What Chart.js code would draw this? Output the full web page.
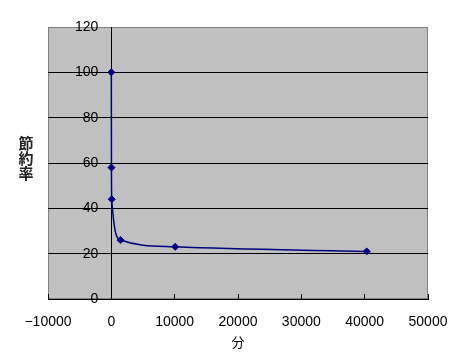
<!DOCTYPE html>
<html>
<head>
<meta charset="utf-8">
<script src="https://cdn.jsdelivr.net/npm/chart.js@4/dist/chart.umd.min.js"></script>
<style>
  html, body { margin: 0; padding: 0; background: #fff; }
  #wrap { position: relative; width: 463px; height: 354px; }
  #yTitle {
    position: absolute; left: 17px; top: 135px; width: 18px;
    font: bold 15px "Noto Sans CJK JP", sans-serif; line-height: 15px;
    color: #222; text-align: center;
  }
</style>
</head>
<body>
<div id="wrap">
  <canvas id="chart" width="463" height="354"></canvas>
  <div id="yTitle"></div>
</div>
<script>
// elapsed minutes vs saving rate (%)
const minutes = [0, 20, 60, 1440, 10080, 40320];
const savingRate = [100, 58, 44, 26, 23, 21];
const xTicks = [-10000, 0, 10000, 20000, 30000, 40000, 50000];
const yTicks = [0, 20, 40, 60, 80, 100, 120];
const xTitle = '分';
const yTitle = '節約率';

document.getElementById('yTitle').innerHTML = yTitle.split('').join('<br>');

const tickFont = { family: 'Liberation Sans', size: 14 };

// gray plot area like the old excel charts
const plotBg = {
  id: 'plotBg',
  beforeDraw(chart) {
    const { ctx, chartArea: a } = chart;
    ctx.save();
    ctx.fillStyle = '#c0c0c0';
    ctx.fillRect(a.left, a.top, a.right - a.left, a.bottom - a.top);
    ctx.strokeStyle = '#808080';
    ctx.lineWidth = 1;
    ctx.strokeRect(a.left + 0.5, a.top + 0.5, a.right - a.left - 1, a.bottom - a.top - 1);
    ctx.restore();
  }
};

// keep the plot box where the layout padding puts it
function noScalePadding(s) {
  s.paddingTop = 0;
  s.paddingBottom = 0;
  s.paddingLeft = 0;
  s.paddingRight = 0;
}

new Chart(document.getElementById('chart'), {
  type: 'scatter',
  data: {
    datasets: [{
      data: minutes.map((m, i) => ({ x: m, y: savingRate[i] })),
      showLine: true,
      cubicInterpolationMode: 'monotone',
      borderColor: '#000080',
      borderWidth: 1.5,
      backgroundColor: '#000080',
      pointStyle: 'rectRot',
      pointRadius: 3.5,
      pointBorderWidth: 1,
      clip: false
    }]
  },
  options: {
    responsive: false,
    animation: false,
    layout: { padding: { left: 48, right: 35, top: 27, bottom: 0 } },
    plugins: { legend: { display: false }, tooltip: { enabled: false } },
    scales: {
      x: {
        type: 'linear',
        min: -10000,
        max: 50000,
        afterBuildTicks: s => { s.ticks = xTicks.map(v => ({ value: v })); },
        afterFit: s => { s.height = 55; noScalePadding(s); },
        // only the value axis at x = 0 is drawn across the plot
        grid: {
          color: c => (c.tick && c.tick.value === 0 ? '#000' : 'transparent'),
          tickColor: '#000',
          tickLength: -5
        },
        border: { color: '#000', width: 1 },
        ticks: {
          color: '#000', font: tickFont, padding: 20, maxRotation: 0, autoSkip: false,
          callback: v => String(v).replace('-', '\u2212')
        },
        title: { display: true, text: xTitle, color: '#000', font: { family: 'Noto Sans CJK JP', size: 13 }, padding: { top: 0, bottom: 4 } }
      },
      y: {
        type: 'linear',
        min: 0,
        max: 120,
        position: 'left',
        afterBuildTicks: s => { s.ticks = yTicks.map(v => ({ value: v })); },
        afterFit: s => { s.width = 0; noScalePadding(s); },
        grid: {
          color: c => (c.tick && c.tick.value === 120 ? 'transparent' : '#000'),
          drawTicks: false
        },
        border: { display: false },
        // labels sit inside the plot, just left of x = 0
        ticks: { color: '#000', font: tickFont, mirror: true, crossAlign: 'far', padding: 27, callback: v => String(v) }
      }
    }
  },
  plugins: [plotBg]
});
</script>
</body>
</html>
